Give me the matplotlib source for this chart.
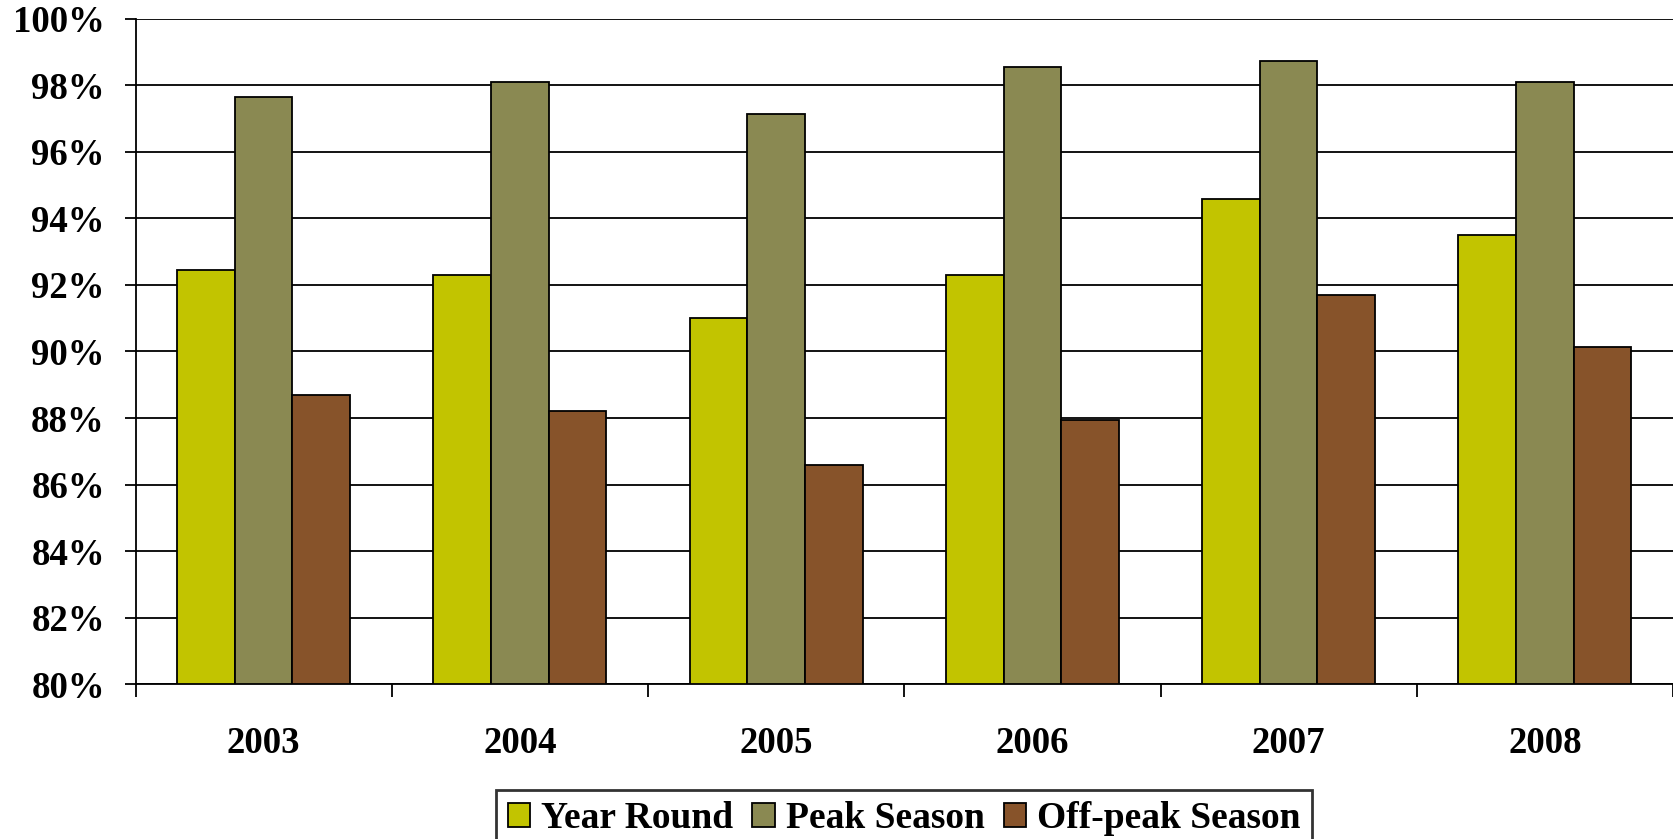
import matplotlib

matplotlib.use("Agg")
import matplotlib.pyplot as plt
import numpy as np
from matplotlib.ticker import FuncFormatter, MultipleLocator

# Occupancy rate by year, in percent
years = ["2003", "2004", "2005", "2006", "2007", "2008"]
year_round = [92.45, 92.3, 91.0, 92.3, 94.6, 93.5]
peak_season = [97.65, 98.1, 97.15, 98.55, 98.75, 98.1]
off_peak_season = [88.7, 88.2, 86.6, 87.95, 91.7, 90.15]

series_labels = ["Year Round", "Peak Season", "Off-peak Season"]
series_colors = ["#C2C400", "#8A8952", "#87532A"]

plt.rcParams["font.family"] = ["Liberation Serif", "DejaVu Serif"]
plt.rcParams["font.weight"] = "bold"

fig = plt.figure(figsize=(16.73, 8.39), dpi=100)
ax = fig.add_axes([0.081, 0.1847, 0.919, 0.7927])

x = np.arange(len(years))
width = 0.225
for i, (vals, label, color) in enumerate(
    zip([year_round, peak_season, off_peak_season], series_labels, series_colors)
):
    ax.bar(
        x + (i - 1) * width,
        np.array(vals) - 80,
        width,
        bottom=80,
        color=color,
        edgecolor="black",
        linewidth=1.3,
        label=label,
        zorder=3,
    )

ax.set_ylim(80, 100)
ax.set_xlim(-0.5, len(years) - 0.5)

# y axis: gridlines every 2%
ax.yaxis.set_major_locator(MultipleLocator(2))
ax.yaxis.set_major_formatter(FuncFormatter(lambda v, _: f"{v:.0f}%"))
ax.grid(axis="y", color="black", linewidth=1.3, zorder=0)
ax.tick_params(axis="y", length=8, width=1.3, pad=14, labelsize=26.5)

# x axis: ticks between groups, year labels centred under each group
ax.set_xticks(np.arange(-0.5, len(years), 1.0))
ax.set_xticklabels([])
ax.set_xticks(x, minor=True)
ax.set_xticklabels(years, minor=True)
ax.tick_params(axis="x", which="major", length=9, width=1.3)
ax.tick_params(axis="x", which="minor", length=0, pad=30, labelsize=26.5)

for side in ["top", "right"]:
    ax.spines[side].set_visible(False)
for side in ["left", "bottom"]:
    ax.spines[side].set_linewidth(1.3)

leg = fig.legend(
    loc="upper center",
    bbox_to_anchor=(0.5405, 0.0584),
    ncol=3,
    fontsize=27,
    frameon=True,
    fancybox=False,
    edgecolor="black",
    handlelength=0.6,
    handleheight=0.6,
    handletextpad=0.3,
    columnspacing=0.5,
    borderpad=0.3,
    borderaxespad=0,
)
leg.get_frame().set_linewidth(2)

fig.savefig("out.png", dpi=100)
